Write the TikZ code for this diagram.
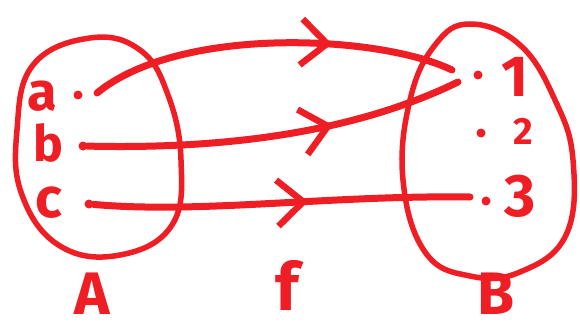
\documentclass[tikz,border=0pt]{standalone}
\usepackage{fontspec}
\setmainfont{Fira Sans}
\usetikzlibrary{arrows.meta,decorations.markings}
\definecolor{penred}{RGB}{238,30,36}
\begin{document}
\begin{tikzpicture}[x=1pt,y=-1pt,line cap=round,line join=round,
  pen/.style={draw=penred,line width=7pt},
  ring/.style={draw=penred,line width=5.5pt},
  dotn/.style={circle,fill=penred,inner sep=0pt,minimum size=9pt},
  lbl/.style={text=penred,inner sep=0pt,font=\bfseries\fontsize{#1}{#1}\selectfont},
  midarrow/.style={postaction={decorate},decoration={markings,
     mark=at position #1 with {\arrow[penred,line width=6.5pt]{Straight Barb[length=26pt,width=46pt]}}}}]
\useasboundingbox (0,0) rectangle (580,334);
% sets
\draw[ring] plot[smooth cycle,tension=0.7] coordinates {(90,38) (140,50) (168,95) (181,160) (172,225) (120,255) (60,246) (22,195) (17,130) (33,65)};
\draw[ring] plot[smooth cycle,tension=0.7] coordinates {(470,24) (520,45) (555,100) (573,160) (566,235) (520,272) (470,276) (425,252) (403,180) (410,100) (435,45)};
% labels
\node[lbl=54] (la) at (42,96) {a};
\node[lbl=50] (lb) at (48,143) {b};
\node[lbl=56] (lc) at (49,203) {c};
\node[lbl=58] (l1) at (515,77) {1};
\node[lbl=38] (l2) at (523,131) {2};
\node[lbl=60] (l3) at (520,196) {3};
\node[lbl=60] (lA) at (92,294) {A};
\node[lbl=66] (lf) at (287,285) {f};
\node[lbl=60] (lB) at (496,294) {B};
% dots
\node[dotn] (da) at (78,95) {};
\node[dotn] (db) at (83,146) {};
\node[dotn] (dc) at (89,204) {};
\node[dotn] (d1) at (478,75) {};
\node[dotn] (d2) at (481,133) {};
\node[dotn] (d3) at (486,201) {};
% arrow ends
\coordinate (sa) at (97,93);
\coordinate (ea) at (452,70);
\coordinate (eb) at (458,82);
\coordinate (ec) at (470,197);
% mappings
\draw[pen,midarrow=0.665] (sa) .. controls (180,25) and (380,35) .. (ea);
\draw[pen,midarrow=0.65] (db) .. controls (250,150) and (370,125) .. (eb);
\draw[pen,midarrow=0.57] (dc) .. controls (200,214) and (330,195) .. (ec);
\end{tikzpicture}
\end{document}
